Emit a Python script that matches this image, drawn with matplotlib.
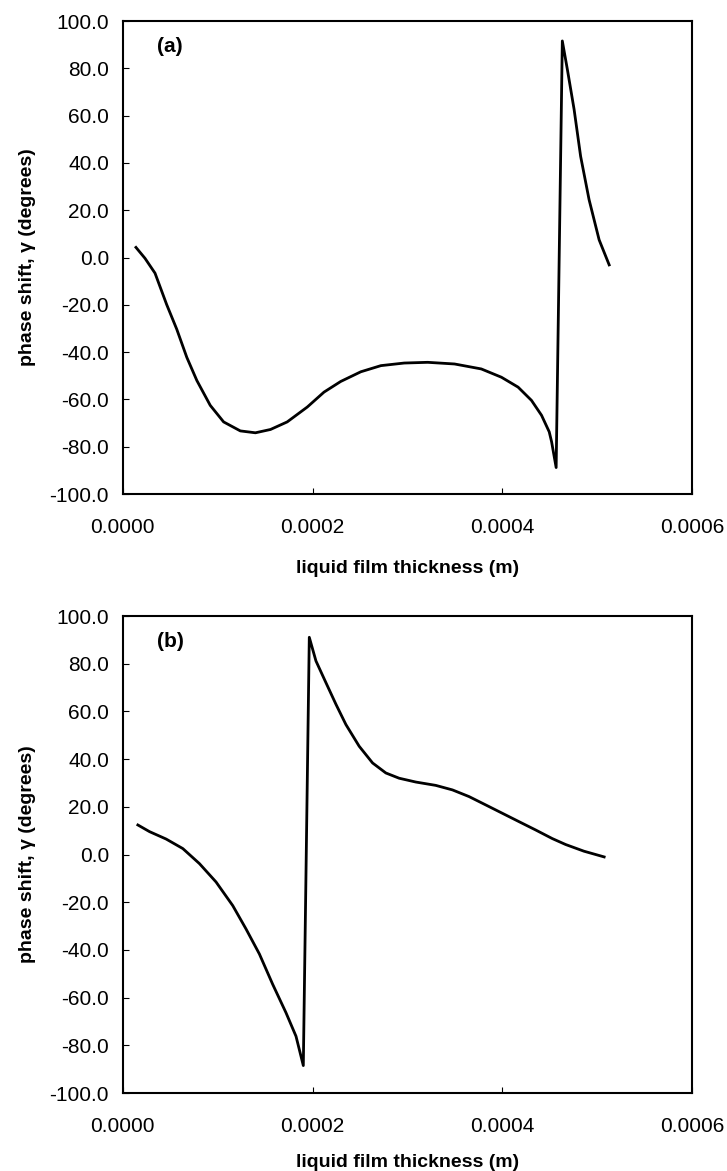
import matplotlib
matplotlib.use('Agg')
import matplotlib.pyplot as plt

plt.rcParams['font.family'] = ['Liberation Sans', 'DejaVu Sans']

# panel (a)
xa = [0.0000138, 0.0000233, 0.0000339, 0.0000462, 0.0000568, 0.0000674, 0.000078,
      0.0000921, 0.0001062, 0.0001238, 0.0001397, 0.0001556, 0.0001732, 0.0001944,
      0.000212, 0.0002296, 0.0002508, 0.000272, 0.0002966, 0.0003213, 0.0003496,
      0.0003778, 0.000399, 0.0004166, 0.0004307, 0.0004413, 0.0004494, 0.0004519,
      0.0004567, 0.0004632, 0.0004685, 0.0004756, 0.0004825, 0.0004914, 0.000502,
      0.0005126]
ya = [4.3, -0.3, -6.6, -19.9, -30.3, -42.2, -52.0,
      -62.5, -69.5, -73.3, -74.1, -72.7, -69.5, -63.2,
      -56.9, -52.4, -48.3, -45.7, -44.6, -44.3, -45.0,
      -47.1, -50.6, -54.8, -60.4, -66.7, -73.7, -77.9,
      -88.8, 91.6, 79.6, 62.7, 42.8, 24.5, 7.5,
      -3.1]

# panel (b)
xb = [0.0000158, 0.0000281, 0.0000456, 0.0000632, 0.0000807, 0.0000982, 0.0001158,
      0.0001298, 0.0001439, 0.0001579, 0.0001719, 0.0001825, 0.0001902, 0.0001965,
      0.0002035, 0.000214, 0.0002246, 0.0002351, 0.0002491, 0.0002632, 0.0002772,
      0.0002912, 0.0003088, 0.0003298, 0.0003474, 0.0003649, 0.0003825, 0.0004,
      0.0004175, 0.0004351, 0.0004526, 0.0004667, 0.000486, 0.0005073]
yb = [12.4, 9.6, 6.5, 2.5, -3.8, -11.5, -21.4,
      -31.2, -41.7, -54.4, -66.3, -76.2, -88.5, 91.1,
      81.2, 72.1, 63.0, 54.5, 45.4, 38.4, 34.2,
      32.0, 30.4, 29.0, 27.1, 24.3, 20.8, 17.3,
      13.8, 10.3, 6.7, 4.2, 1.4, -1.0]

xticks = [0.0, 0.0002, 0.0004, 0.0006]
xticklabels = ['0.0000', '0.0002', '0.0004', '0.0006']
yticks = [-100, -80, -60, -40, -20, 0, 20, 40, 60, 80, 100]

fig = plt.figure(figsize=(7.27, 11.71), dpi=100)
ax1 = fig.add_axes([0.169, 0.5781, 0.783, 0.4039])
ax2 = fig.add_axes([0.169, 0.0666, 0.783, 0.4073])

for ax, x, y, tag, lp in [(ax1, xa, ya, '(a)', 17), (ax2, xb, yb, '(b)', 13)]:
    ax.plot(x, y, color='black', lw=2.0)
    ax.set_xlim(0, 0.0006)
    ax.set_ylim(-100, 100)
    ax.set_xticks(xticks)
    ax.set_xticklabels(xticklabels)
    ax.set_yticks(yticks)
    ax.set_yticklabels(['%.1f' % v for v in yticks])
    ax.tick_params(direction='in', length=4, width=0.8, labelsize=15)
    ax.tick_params(axis='x', pad=17)
    ax.tick_params(axis='y', pad=10)
    for s in ax.spines.values():
        s.set_linewidth(1.5)
    ax.set_xlabel('liquid film thickness (m)', fontsize=14, fontweight='bold', labelpad=lp)
    ax.set_ylabel('phase shift, γ (degrees)', fontsize=14, fontweight='bold', labelpad=10)
    ax.text(0.06, 0.946, tag, transform=ax.transAxes, fontsize=15, fontweight='bold',
            va='center', ha='left')

fig.savefig('out.png', dpi=100)
